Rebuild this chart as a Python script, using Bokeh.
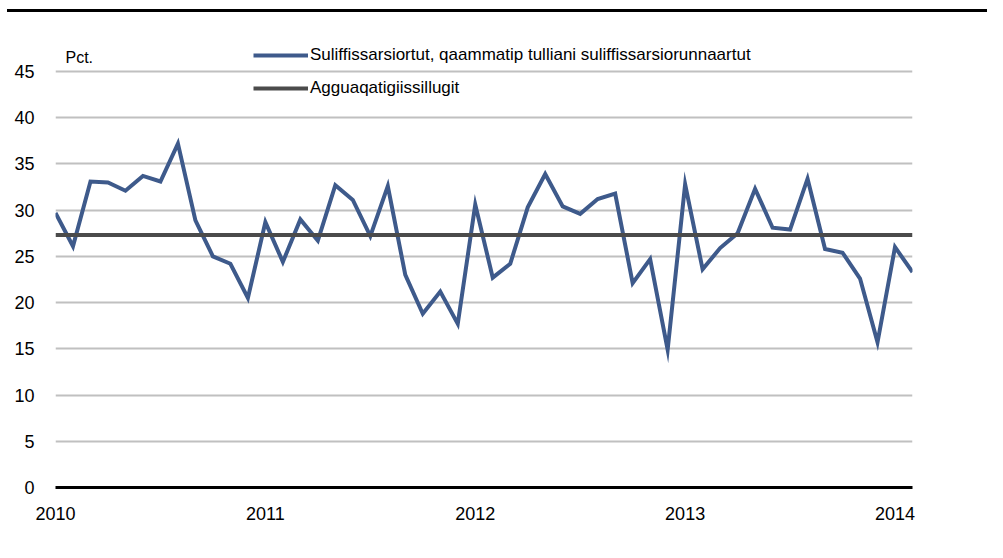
from bokeh.plotting import figure
from bokeh.models import (FixedTicker, Legend, LegendItem, Label, Div)
from bokeh.layouts import column
from bokeh.embed import file_html
from bokeh.resources import INLINE

# ---- data ----
month_index = list(range(50))  # Jan 2010 .. Feb 2014
unemployment_share = [29.7, 26.1, 33.1, 33.0, 32.1, 33.7, 33.1, 37.2, 28.9, 25.0, 24.2, 20.5,
                      28.7, 24.4, 29.0, 26.7, 32.7, 31.1, 27.2, 32.6, 23.0, 18.8, 21.2, 17.7,
                      30.6, 22.7, 24.2, 30.3, 33.9, 30.4, 29.6, 31.2, 31.8, 22.1, 24.7, 14.9,
                      32.8, 23.6, 25.9, 27.5, 32.3, 28.1, 27.9, 33.4, 25.8, 25.4, 22.6, 15.7,
                      26.0, 23.3]
average_value = 27.3
average_series = [average_value for _ in month_index]
year_tick_positions = [0, 12, 24, 36, 48]
year_tick_labels = ["2010", "2011", "2012", "2013", "2014"]
y_ticks = [0, 5, 10, 15, 20, 25, 30, 35, 40, 45]
series_name = "Suliffissarsiortut, qaammatip tulliani suliffissarsiorunnaartut"
average_name = "Agguaqatigiissillugit"
unit_label = "Pct."

FONT = "Liberation Sans"
BLUE = "#3e5a8b"
GRAY = "#4b4b4b"

p = figure(width=987, height=530, output_backend="svg", toolbar_location=None,
           x_range=(0, 49), y_range=(0, 51.38),
           min_border_left=55, min_border_right=75, min_border_top=0, min_border_bottom=55)
p.outline_line_color = None
p.background_fill_color = "white"
p.border_fill_color = "white"

blue_r = p.line(month_index, unemployment_share, line_color=BLUE, line_width=4, line_join="miter")
gray_r = p.line(month_index, average_series, line_color=GRAY, line_width=4)

# axes
p.xaxis.ticker = FixedTicker(ticks=year_tick_positions)
p.xaxis.major_label_overrides = {k: v for k, v in zip(year_tick_positions, year_tick_labels)}
p.xaxis.major_tick_in = 0
p.xaxis.major_tick_out = 0
p.xaxis.minor_tick_in = 0
p.xaxis.minor_tick_out = 0
p.xaxis.axis_line_color = "black"
p.xaxis.axis_line_width = 3
p.xaxis.major_label_standoff = 19
p.xaxis.major_label_text_font = FONT
p.xaxis.major_label_text_font_size = "18px"
p.xaxis.major_label_text_color = "black"

p.yaxis.ticker = FixedTicker(ticks=y_ticks)
p.yaxis.major_tick_in = 0
p.yaxis.major_tick_out = 0
p.yaxis.minor_tick_in = 0
p.yaxis.minor_tick_out = 0
p.yaxis.axis_line_color = None
p.yaxis.major_label_standoff = 21
p.yaxis.major_label_text_font = FONT
p.yaxis.major_label_text_font_size = "18px"
p.yaxis.major_label_text_color = "black"

p.xgrid.grid_line_color = None
p.ygrid.ticker = FixedTicker(ticks=y_ticks)
p.ygrid.grid_line_color = "#c0c0c0"
p.ygrid.grid_line_width = 2

# unit label
p.add_layout(Label(x=0.57, y=46.5, text=unit_label, text_font=FONT,
                   text_font_size="16px", text_color="black", text_baseline="alphabetic"))

# legend
legend = Legend(items=[LegendItem(label=series_name, renderers=[blue_r]),
                       LegendItem(label=average_name, renderers=[gray_r])],
                location=(198, 389), orientation="vertical",
                glyph_width=55, glyph_height=20, label_height=20, spacing=13,
                label_standoff=2, padding=0, margin=0,
                label_text_font=FONT, label_text_font_size="17px", label_text_color="black",
                border_line_alpha=0, background_fill_alpha=0)
p.add_layout(legend, "center")

# top rule above the chart
rule = Div(text="", width=980, height=3, margin=(9, 0, 0, 7),
           styles={"background-color": "black"})

layout = column(rule, p, spacing=0)

open("out.html", "w").write(file_html(layout, INLINE))
